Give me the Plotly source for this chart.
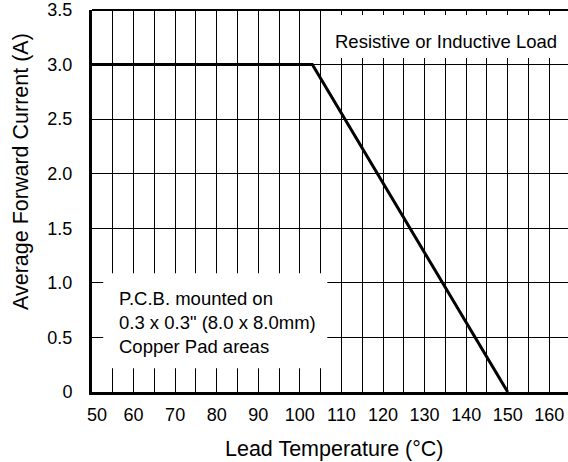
import plotly.graph_objects as go

# Data
lead_temp = [50, 103, 150]          # °C
avg_current = [3.0, 3.0, 0.0]       # A

x_tick_vals = [50, 60, 70, 80, 90, 100, 110, 120, 130, 140, 150, 160]
x_tick_text = ["\u00a0\u00a050", "60", "70", "80", "90", "100", "110", "120", "130", "140", "150", "160"]
y_tick_vals = [0, 0.5, 1.0, 1.5, 2.0, 2.5, 3.0, 3.5]
y_tick_text = ["0", "0.5", "1.0", "1.5", "2.0", "2.5", "3.0", "3.5"]

FONT = "Liberation Sans, Arial, Helvetica, sans-serif"
GRID = "#000000"
TICK_SIZE = 18
NOTE_SIZE = 18.5
TITLE_SIZE = 21.5

fig = go.Figure()
fig.add_trace(go.Scatter(
    x=lead_temp, y=avg_current, mode="lines",
    line=dict(color="black", width=3), showlegend=False, hoverinfo="skip",
))

fig.update_layout(
    width=568, height=462,
    margin=dict(l=92, r=0, t=10, b=70),
    paper_bgcolor="white", plot_bgcolor="white",
    font=dict(family=FONT, size=TICK_SIZE, color="black"),
    showlegend=False,
)

fig.update_xaxes(
    range=[50, 164.5],
    tickmode="array", tickvals=x_tick_vals, ticktext=x_tick_text,
    showgrid=True, gridcolor=GRID, gridwidth=1,
    minor=dict(tick0=50, dtick=5, showgrid=True, gridcolor=GRID, gridwidth=1),
    showline=True, linecolor="black", linewidth=3,
    ticks="", zeroline=False,
    ticklabelstandoff=4,
    tickfont=dict(size=TICK_SIZE, family=FONT),
)
fig.update_yaxes(
    range=[0, 3.5],
    tickmode="array", tickvals=y_tick_vals, ticktext=y_tick_text,
    showgrid=True, gridcolor=GRID, gridwidth=1,
    showline=True, linecolor="black", linewidth=3,
    ticks="", zeroline=False,
    ticklabelstandoff=13,
    tickfont=dict(size=TICK_SIZE, family=FONT),
)

# top border
fig.add_shape(type="line", xref="paper", yref="paper", x0=0, x1=1, y0=1, y1=1,
              line=dict(color="black", width=2))

# white boxes behind annotations
fig.add_shape(type="rect", xref="x", yref="y", x0=107, x1=165, y0=3.06, y1=3.455,
              fillcolor="white", line=dict(width=0), layer="above")
fig.add_shape(type="rect", xref="x", yref="y", x0=52.7, x1=106.6, y0=0.217, y1=1.089,
              fillcolor="white", line=dict(width=0), layer="above")

fig.add_annotation(x=135.2, y=3.208, xref="x", yref="y", text="Resistive or Inductive Load",
                   showarrow=False, font=dict(size=NOTE_SIZE, family=FONT),
                   xanchor="center", yanchor="middle")
fig.add_annotation(x=56.1, y=0.641, xref="x", yref="y",
                   text="P.C.B. mounted on<br>0.3 x 0.3\" (8.0 x 8.0mm)<br>Copper Pad areas",
                   showarrow=False, align="left", font=dict(size=NOTE_SIZE, family=FONT),
                   xanchor="left", yanchor="middle")

# axis titles
fig.add_annotation(x=(334.5 - 92) / 476, y=(392 - 449) / 382, xref="paper", yref="paper",
                   text="Lead Temperature (\u00b0C)", showarrow=False,
                   font=dict(size=TITLE_SIZE, family=FONT), xanchor="center", yanchor="middle")
fig.add_annotation(x=(21 - 92) / 476, y=(392 - 172) / 382, xref="paper", yref="paper",
                   text="Average Forward Current (A)", showarrow=False, textangle=-90,
                   font=dict(size=TITLE_SIZE, family=FONT), xanchor="center", yanchor="middle")

# remove the default page margin so the figure sits at the window origin
fig.write_html("out.html", config={"displayModeBar": False},
               post_script="document.body.style.margin='0px';")
